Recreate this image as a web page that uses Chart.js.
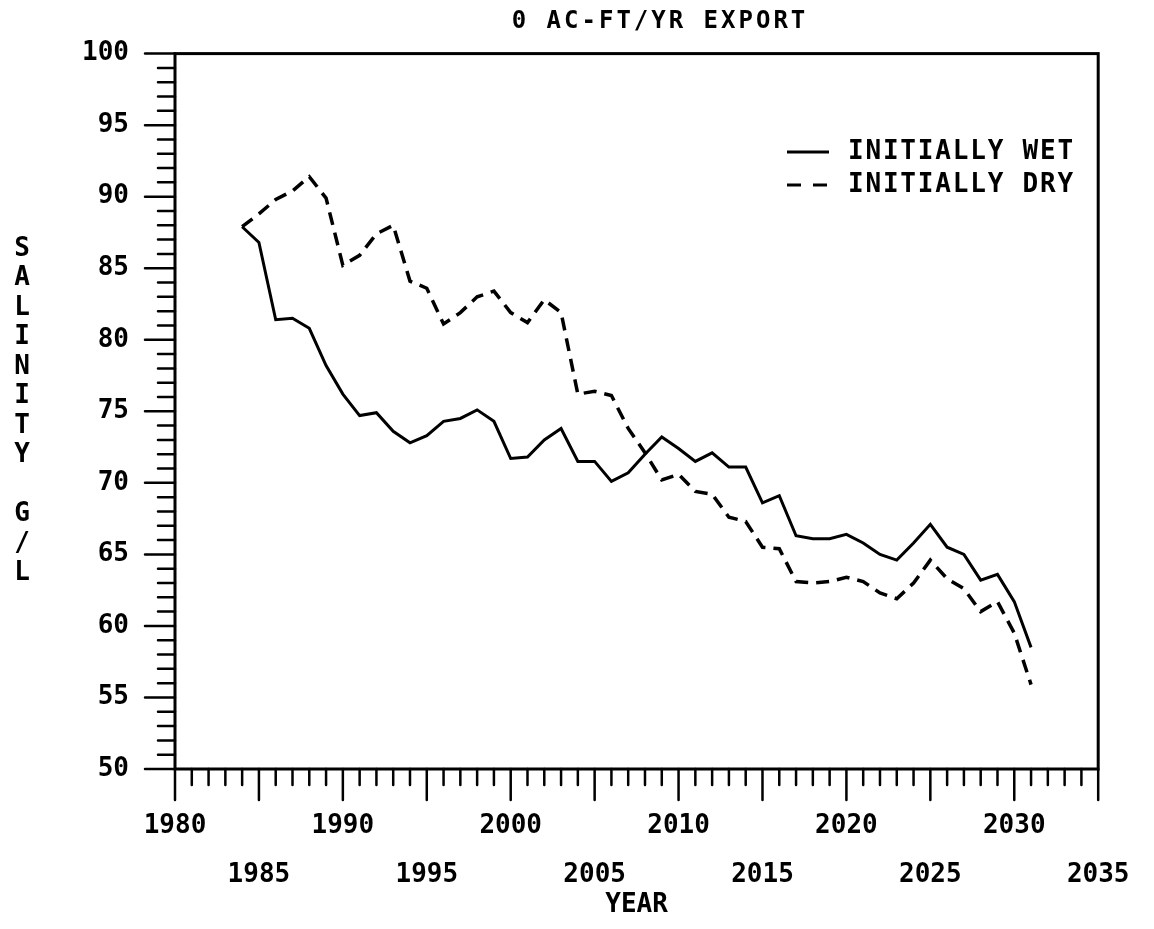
<!DOCTYPE html>
<html lang="en">

<head>
  <meta charset="UTF-8">
  <title>Salinity - 0 AC-FT/YR Export</title>
  <script src="https://cdn.jsdelivr.net/npm/chart.js"></script>
  <style>
    body {
      margin: 0;
      background: #fff;
    }

    #chartContainer {
      width: 1154px;
      height: 929px;
    }
  </style>
</head>

<body>
  <div id="chartContainer">
    <canvas id="salinityChart"></canvas>
  </div>

  <script>
    const years = [1984, 1985, 1986, 1987, 1988, 1989, 1990, 1991, 1992, 1993, 1994, 1995, 1996, 1997, 1998, 1999,
      2000, 2001, 2002, 2003, 2004, 2005, 2006, 2007, 2008, 2009, 2010, 2011, 2012, 2013, 2014, 2015,
      2016, 2017, 2018, 2019, 2020, 2021, 2022, 2023, 2024, 2025, 2026, 2027, 2028, 2029, 2030, 2031];
    const initiallyWet = [87.9, 86.8, 81.4, 81.5, 80.8, 78.2, 76.2, 74.7, 74.9, 73.6, 72.8, 73.3, 74.3, 74.5, 75.1, 74.3,
      71.7, 71.8, 73.0, 73.8, 71.5, 71.5, 70.1, 70.7, 72.0, 73.2, 72.4, 71.5, 72.1, 71.1, 71.1, 68.6,
      69.1, 66.3, 66.1, 66.1, 66.4, 65.8, 65.0, 64.6, 65.8, 67.1, 65.5, 65.0, 63.2, 63.6, 61.7, 58.5];
    const initiallyDry = [87.9, 88.8, 89.8, 90.4, 91.4, 89.9, 85.2, 85.9, 87.4, 88.0, 84.1, 83.6, 81.1, 81.9, 83.0, 83.4,
      81.9, 81.2, 82.8, 81.9, 76.2, 76.4, 76.1, 73.8, 72.1, 70.2, 70.6, 69.4, 69.2, 67.6, 67.3, 65.5,
      65.4, 63.1, 63.0, 63.1, 63.4, 63.1, 62.3, 61.9, 63.0, 64.6, 63.3, 62.6, 61.0, 61.7, 59.5, 55.9];

    const seriesNames = ['INITIALLY WET', 'INITIALLY DRY'];
    const chartTitle = '0 AC-FT/YR EXPORT';
    const xTitle = 'YEAR';
    const yTitle = 'SALINITY G/L';

    const FONT = '"DejaVu Sans Mono", "Liberation Mono", monospace';

    // frame, minor/major ticks, title, legend and axis titles
    const decor = {
      id: 'decor',
      afterDraw(chart) {
        const { ctx, chartArea: a, scales: { x, y } } = chart;
        ctx.save();
        ctx.strokeStyle = '#000';
        ctx.fillStyle = '#000';
        ctx.lineCap = 'round';

        ctx.lineWidth = 3;
        ctx.strokeRect(a.left, a.top, a.right - a.left, a.bottom - a.top);

        ctx.lineWidth = 2.5;
        ctx.beginPath();
        for (let v = y.min; v <= y.max; v++) {
          const py = y.getPixelForValue(v);
          const len = v % 5 === 0 ? 30 : 17;
          ctx.moveTo(a.left - len, py);
          ctx.lineTo(a.left, py);
        }
        for (let t = x.min; t <= x.max; t++) {
          const px = x.getPixelForValue(t);
          const len = t % 5 === 0 ? 31 : 16;
          ctx.moveTo(px, a.bottom);
          ctx.lineTo(px, a.bottom + len);
        }
        ctx.stroke();

        ctx.font = 'bold 24px ' + FONT;
        ctx.letterSpacing = '3px';
        ctx.textAlign = 'center';
        ctx.textBaseline = 'middle';
        ctx.fillText(chartTitle, 660, 22);

        ctx.font = 'bold 26px ' + FONT;
        ctx.letterSpacing = '1.8px';
        ctx.textAlign = 'left';
        const rows = [152, 185];
        ctx.lineWidth = 3;
        ctx.lineCap = 'butt';
        ctx.beginPath();
        ctx.moveTo(787, rows[0]);
        ctx.lineTo(829, rows[0]);
        ctx.stroke();
        ctx.setLineDash([14, 12]);
        ctx.beginPath();
        ctx.moveTo(787, rows[1]);
        ctx.lineTo(829, rows[1]);
        ctx.stroke();
        ctx.setLineDash([]);
        ctx.fillText(seriesNames[0], 848, rows[0]);
        ctx.fillText(seriesNames[1], 848, rows[1]);

        ctx.letterSpacing = '0px';
        ctx.textAlign = 'center';
        ctx.fillText(xTitle, (a.left + a.right) / 2, 905);
        let ly = 249;
        for (const ch of yTitle) {
          if (ch !== ' ') ctx.fillText(ch, 22, ly);
          ly += 29.5;
        }
        ctx.restore();
      }
    };

    const ctx = document.getElementById('salinityChart').getContext('2d');
    new Chart(ctx, {
      type: 'line',
      data: {
        datasets: [
          {
            label: seriesNames[0],
            data: years.map((yr, i) => ({ x: yr, y: initiallyWet[i] })),
            borderColor: '#000',
            borderWidth: 3,
            pointRadius: 0,
            tension: 0
          },
          {
            label: seriesNames[1],
            data: years.map((yr, i) => ({ x: yr, y: initiallyDry[i] })),
            borderColor: '#000',
            borderWidth: 3.5,
            borderDash: [13, 8],
            pointRadius: 0,
            tension: 0
          }
        ]
      },
      options: {
        responsive: true,
        maintainAspectRatio: false,
        animation: false,
        layout: {
          padding: { top: 48, right: 49, left: 0, bottom: 0 }
        },
        plugins: {
          legend: { display: false },
          tooltip: { enabled: false }
        },
        scales: {
          x: {
            type: 'linear',
            min: 1980,
            max: 2035,
            afterFit: (scale) => { scale.height = 160; },
            grid: { display: false },
            border: { display: false },
            ticks: {
              stepSize: 5,
              autoSkip: false,
              maxRotation: 0,
              padding: 24.5,
              color: '#000',
              font: { family: FONT, size: 26, weight: 'bold', lineHeight: 49 / 26 },
              callback: (v) => v % 10 === 0 ? [String(v), ''] : ['', String(v)]
            }
          },
          y: {
            min: 50,
            max: 100,
            afterFit: (scale) => { scale.width = 175; },
            grid: { display: false },
            border: { display: false },
            ticks: {
              stepSize: 5,
              autoSkip: false,
              padding: 38,
              color: '#000',
              font: { family: FONT, size: 26, weight: 'bold' },
              callback: (v) => String(v)
            }
          }
        }
      },
      plugins: [decor]
    });
  </script>
</body>

</html>
